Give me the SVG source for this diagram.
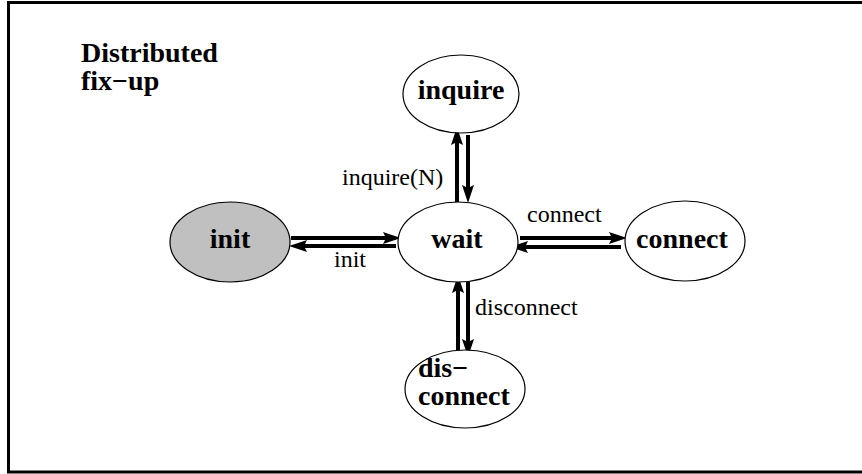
<svg xmlns="http://www.w3.org/2000/svg" width="862" height="474" viewBox="0 0 862 474">
  <style>
    .node { fill: #ffffff; stroke: #000000; stroke-width: 1.2; }
    .start { fill: #c0c0c0; }
    .name { font-family: "Liberation Serif", "Times New Roman", serif; font-weight: bold; font-size: 28px; fill: #000; }
    .lbl { font-family: "Liberation Serif", "Times New Roman", serif; font-size: 24px; fill: #000; }
    .edge { stroke: #000; stroke-width: 4; fill: none; marker-end: url(#head); }
  </style>
  <defs>
    <!-- solid arrowhead, tip lies 12px beyond the line end -->
    <marker id="head" markerUnits="userSpaceOnUse" markerWidth="24" markerHeight="16" viewBox="0 -8 24 16" refX="6" refY="0" orient="auto">
      <path d="M0,-6 L18,0 L0,6 L3,0 Z" fill="#000"/>
    </marker>
  </defs>

  <!-- page frame -->
  <rect x="8.5" y="2.5" width="900" height="469.5" fill="#fff" stroke="#000" stroke-width="3"/>

  <g id="title">
    <text class="name" x="81" y="62">Distributed</text>
    <text class="name" x="81" y="90">fix−up</text>
  </g>

  <g id="connectors">
    <!-- init <-> wait -->
    <line class="edge" x1="291" y1="238" x2="389" y2="238"/>
    <line class="edge" x1="396" y1="246" x2="301" y2="246"/>
    <!-- wait <-> connect -->
    <line class="edge" x1="520" y1="238" x2="615" y2="238"/>
    <line class="edge" x1="621" y1="247" x2="522" y2="247"/>
    <!-- wait <-> inquire -->
    <line class="edge" x1="457" y1="203" x2="457" y2="139"/>
    <line class="edge" x1="468" y1="135" x2="468" y2="191"/>
    <!-- wait <-> disconnect -->
    <line class="edge" x1="458" y1="350" x2="458" y2="287"/>
    <line class="edge" x1="468" y1="282" x2="468" y2="345"/>
    <text class="lbl" x="350" y="267" text-anchor="middle">init</text>
    <text class="lbl" x="527" y="222">connect</text>
    <text class="lbl" x="342" y="185">inquire(N)</text>
    <text class="lbl" x="475" y="315">disconnect</text>
  </g>

  <g id="inquire">
    <ellipse class="node" cx="461" cy="94" rx="58" ry="39"/>
    <text class="name" x="461" y="99" text-anchor="middle">inquire</text>
  </g>
  <g id="wait">
    <ellipse class="node" cx="458" cy="242" rx="60" ry="40"/>
    <text class="name" x="457" y="248" text-anchor="middle">wait</text>
  </g>
  <g id="init">
    <ellipse class="node start" cx="230" cy="242" rx="60" ry="40"/>
    <text class="name" x="230" y="248" text-anchor="middle">init</text>
  </g>
  <g id="connect">
    <ellipse class="node" cx="685" cy="241" rx="60" ry="40"/>
    <text class="name" x="682" y="248" text-anchor="middle">connect</text>
  </g>
  <g id="disconnect">
    <ellipse class="node" cx="465" cy="389" rx="60" ry="39"/>
    <text class="name" x="418" y="377">dis−</text>
    <text class="name" x="418" y="405">connect</text>
  </g>
</svg>
